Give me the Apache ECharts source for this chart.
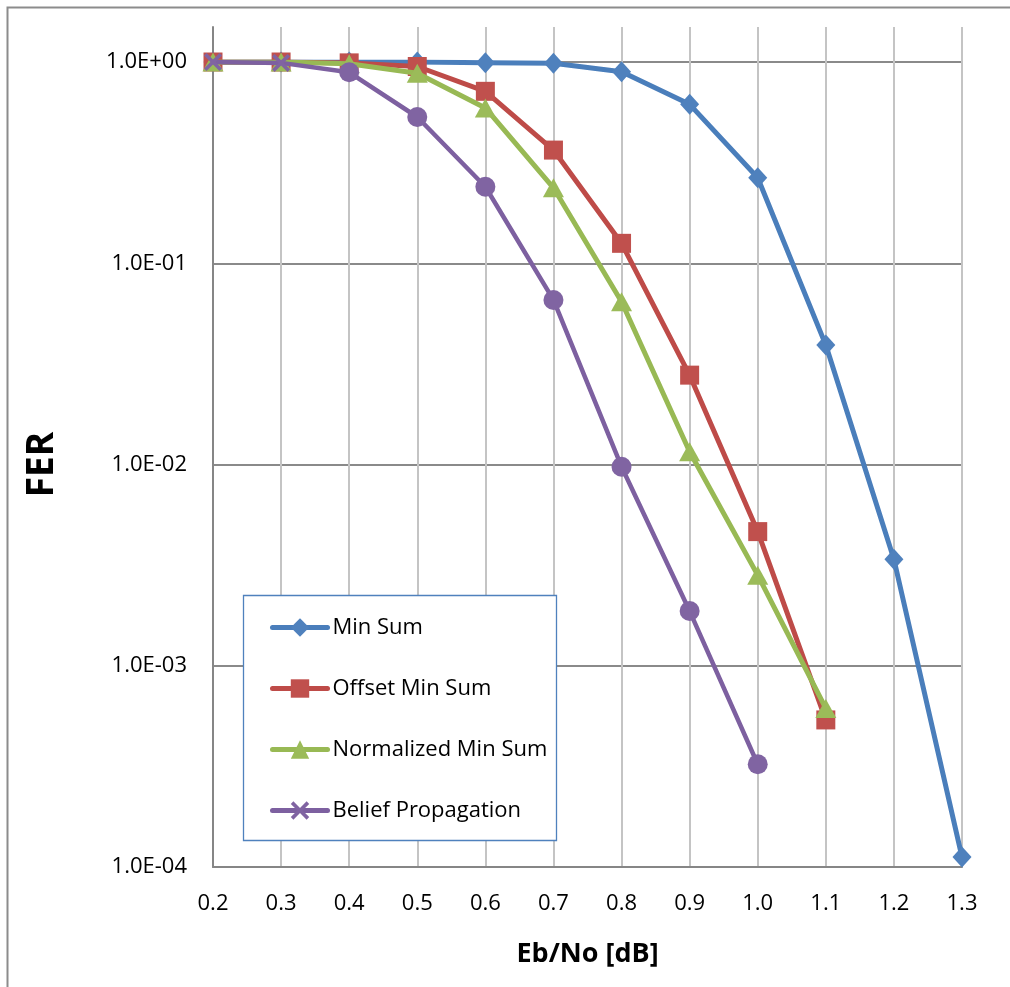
<!DOCTYPE html>
<html>
<head>
<meta charset="utf-8">
<script src="https://cdn.jsdelivr.net/npm/echarts@6/dist/echarts.min.js"></script>
<style>
html,body{margin:0;padding:0;background:#fff;}
#chart{width:1010px;height:987px;}
</style>
</head>
<body>
<div id="chart"></div>
<script>
// ---- data ----
const xTicks = [0.2, 0.3, 0.4, 0.5, 0.6, 0.7, 0.8, 0.9, 1.0, 1.1, 1.2, 1.3];
const seriesNames = ['Min Sum', 'Offset Min Sum', 'Normalized Min Sum', 'Belief Propagation'];
const minSum     = [1.0, 1.0, 1.0, 1.0, 0.992, 0.985, 0.895, 0.616, 0.266, 0.0392, 0.00338, 0.000112];
const offsetMS   = [1.0, 1.0, 0.99, 0.95, 0.715, 0.365, 0.1256, 0.0278, 0.00464, 0.000538];
const normMS     = [1.0, 1.0, 0.98, 0.88, 0.591, 0.237, 0.0644, 0.01158, 0.00282, 0.000614];
const beliefProp = [1.0, 0.99, 0.889, 0.533, 0.240, 0.0657, 0.00975, 0.00187, 0.000324];
const xAxisTitle = 'Eb/No [dB]';
const yAxisTitle = 'FER';

// ---- chart ----
const FONT = '"Open Sans", "Liberation Sans", sans-serif';
const crossPath = 'path://M0,1.4L1.4,0L5,3.6L8.6,0L10,1.4L6.4,5L10,8.6L8.6,10L5,6.4L1.4,10L0,8.6L3.6,5Z';
const bpCrossCount = 2;

function pairs(arr) { return arr.map((v, i) => [xTicks[i], v]); }

const chart = echarts.init(document.getElementById('chart'), null, {renderer: 'canvas'});

function yFmt(v) {
  const e = Math.round(Math.log10(v));
  return '1.0E' + (e < 0 ? '-' : '+') + String(Math.abs(e)).padStart(2, '0');
}

const xCommon = {
  type: 'value', min: 0.2, max: 1.3, interval: 0.1
};

const option = {
  animation: false,
  backgroundColor: '#fff',
  textStyle: {fontFamily: FONT, color: '#000'},
  graphic: [
    {type: 'rect', z: 0, silent: true,
     shape: {x: 7.5, y: 7.5, width: 1100, height: 1100},
     style: {fill: 'none', stroke: '#8c8c8c', lineWidth: 2}},
    {type: 'rect', z: 3, silent: true,
     shape: {x: 243.5, y: 595.5, width: 313, height: 245},
     style: {fill: '#fff', stroke: '#4F81BD', lineWidth: 1.3}}
  ],
  grid: [
    {left: 213, right: 48, top: 62, bottom: 120, containLabel: false, outerBoundsMode: 'none'},
    {left: 213, right: 48, top: 27, height: 35, containLabel: false, outerBoundsMode: 'none'}
  ],
  xAxis: [
    Object.assign({}, xCommon, {
      gridIndex: 0,
      name: xAxisTitle, nameLocation: 'middle', nameGap: 74,
      nameTextStyle: {fontFamily: FONT, fontWeight: 'bold', fontSize: 27, color: '#000'},
      axisLine: {show: true, lineStyle: {color: '#868686', width: 2}},
      axisTick: {show: false},
      axisLabel: {fontFamily: FONT, fontSize: 22, color: '#000', margin: 26,
                  formatter: v => v.toFixed(1)},
      splitLine: {show: true, lineStyle: {color: '#c4c4c4', width: 2}}
    }),
    Object.assign({}, xCommon, {
      gridIndex: 1,
      axisLine: {show: false}, axisTick: {show: false}, axisLabel: {show: false},
      splitLine: {show: true, lineStyle: {color: '#c4c4c4', width: 2}}
    })
  ],
  yAxis: [
    {
      gridIndex: 0, type: 'log', logBase: 10, min: 0.0001, max: 1,
      name: yAxisTitle, nameLocation: 'middle', nameGap: 152, nameRotate: 90,
      nameTextStyle: {fontFamily: FONT, fontWeight: 'bold', fontSize: 37, color: '#000'},
      axisLine: {show: true, lineStyle: {color: '#868686', width: 2}},
      axisTick: {show: false},
      axisLabel: {fontFamily: FONT, fontSize: 22, color: '#000', margin: 26, formatter: yFmt},
      splitLine: {show: true, lineStyle: {color: '#8a8a8a', width: 2}},
      minorTick: {show: false}, minorSplitLine: {show: false}
    },
    {
      gridIndex: 1, type: 'value', min: 0, max: 1,
      axisLine: {show: true, lineStyle: {color: '#868686', width: 2}},
      axisTick: {show: false}, axisLabel: {show: false}, splitLine: {show: false}
    }
  ],
  legend: {
    orient: 'vertical', left: 270, top: 616.5, padding: 0,
    itemWidth: 55, itemHeight: 23, itemGap: 39,
    lineStyle: {width: 5},
    textStyle: {fontFamily: FONT, fontSize: 22, color: '#000', lineHeight: 20, padding: [0, 0, 0, 0]},
    data: seriesNames, z: 5
  },
  series: [
    {
      name: seriesNames[0], type: 'line', data: pairs(minSum),
      symbol: 'diamond', symbolSize: [19, 21],
      lineStyle: {color: '#4A7EBB', width: 5, cap: 'round', join: 'round'},
      itemStyle: {color: '#4F81BD'}, z: 2
    },
    {
      name: seriesNames[1], type: 'line', data: pairs(offsetMS),
      symbol: 'rect', symbolSize: 19,
      lineStyle: {color: '#BE4B48', width: 5, cap: 'round', join: 'round'},
      itemStyle: {color: '#C0504D'}, z: 3
    },
    {
      name: seriesNames[2], type: 'line', data: pairs(normMS),
      symbol: 'triangle', symbolSize: [21, 19],
      lineStyle: {color: '#98B954', width: 5, cap: 'round', join: 'round'},
      itemStyle: {color: '#9BBB59'}, z: 4
    },
    {
      name: seriesNames[3], type: 'line',
      data: pairs(beliefProp).map((p, i) => i < bpCrossCount ? {value: p} : {value: p, symbol: 'circle', symbolSize: 20}),
      symbol: crossPath, symbolSize: 18,
      lineStyle: {color: '#7D60A0', width: 4.5, cap: 'round', join: 'round'},
      itemStyle: {color: '#8064A2'}, z: 5
    }
  ]
};
chart.setOption(option);
</script>
</body>
</html>
